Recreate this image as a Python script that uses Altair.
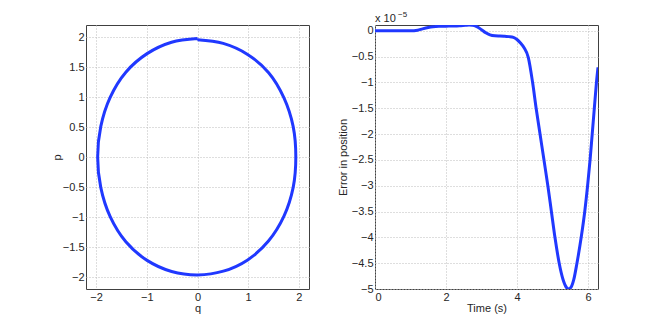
import altair as alt
import pandas as pd

# ---- Left panel: phase portrait (q, p) ----
q_vals = [0.0, 0.507, 0.988, 1.404, 1.706, 1.888, 1.94, 1.888, 1.706, 1.400, 0.99, 0.51,
          0.0, -0.511, -0.995, -1.414, -1.723, -1.908, -1.97, -1.908, -1.723, -1.414,
          -0.995, -0.512, 0.0]
p_vals = [1.955, 1.893, 1.710, 1.404, 0.985, 0.506, 0.0, -0.506, -0.985, -1.400, -1.715,
          -1.903, -1.965, -1.908, -1.723, -1.414, -0.995, -0.511, 0.0, 0.511, 0.995, 1.414,
          1.723, 1.913, 1.975]

# ---- Right panel: error in position (units of 1e-5) ----
t_vals = [0, 0.5, 1.0, 1.2, 1.34, 1.5, 1.63, 1.8, 2.0, 2.2, 2.38, 2.55, 2.65, 2.75, 2.85, 3.0,
          3.12, 3.24, 3.38, 3.52, 3.66, 3.78, 3.9, 4.0, 4.1, 4.2, 4.32, 4.44, 4.54, 4.65, 4.76,
          4.87, 4.97, 5.07, 5.19, 5.3, 5.4, 5.46, 5.52, 5.6, 5.69, 5.81, 5.91, 5.99, 6.06, 6.12,
          6.18, 6.24, 6.283]
err_vals = [0, 0, 0, 0.01, 0.035, 0.06, 0.075, 0.085, 0.088, 0.09, 0.095, 0.105, 0.11, 0.105,
            0.085, 0.02, -0.04, -0.08, -0.1, -0.105, -0.11, -0.115, -0.13, -0.17, -0.24, -0.33,
            -0.52, -1.0, -1.5, -2.0, -2.5, -3.0, -3.5, -4.0, -4.5, -4.82, -4.975, -5.0, -4.97,
            -4.82, -4.5, -4.0, -3.5, -3.0, -2.5, -2.0, -1.5, -1.0, -0.71]

q_ticks = [-2, -1, 0, 1, 2]
p_ticks = [-2, -1.5, -1, -0.5, 0, 0.5, 1, 1.5, 2]
t_ticks = [0, 2, 4, 6]
err_ticks = [0, -0.5, -1, -1.5, -2, -2.5, -3, -3.5, -4, -4.5, -5]
exp_base = ["x 10"]
exp_power = ["\u22125"]

BLUE = "#2038ff"
W, H = 223, 264

phase = pd.DataFrame({"q": q_vals, "p": p_vals, "i": list(range(len(q_vals)))})
err = pd.DataFrame({"t": t_vals, "e": err_vals})

left = alt.Chart(phase).mark_line(color=BLUE, strokeWidth=3, interpolate="catmull-rom").encode(
    x=alt.X("q:Q", title="q",
            scale=alt.Scale(domain=[-2.2, 2.2], nice=False, zero=False),
            axis=alt.Axis(values=q_ticks, format="~g")),
    y=alt.Y("p:Q", title="p",
            scale=alt.Scale(domain=[-2.2, 2.2], nice=False, zero=False),
            axis=alt.Axis(values=p_ticks, format="~g", titlePadding=0)),
    order="i:Q",
).properties(width=W, height=H)

line_r = alt.Chart(err).mark_line(color=BLUE, strokeWidth=3, interpolate="monotone", clip=True).encode(
    x=alt.X("t:Q", title="Time (s)",
            scale=alt.Scale(domain=[0, 6.2832], nice=False, zero=False),
            axis=alt.Axis(values=t_ticks, format="~g")),
    y=alt.Y("e:Q", title="Error in position",
            scale=alt.Scale(domain=[-5, 0.11], nice=False, zero=False),
            axis=alt.Axis(values=err_ticks, format="~g")),
)

base_txt = alt.Chart(pd.DataFrame({"s": exp_base})).mark_text(
    align="left", baseline="middle", fontSize=11, font="Liberation Sans", color="#262626"
).encode(x=alt.value(0), y=alt.value(-6), text="s:N")

pow_txt = alt.Chart(pd.DataFrame({"s": exp_power})).mark_text(
    align="left", baseline="middle", fontSize=8, font="Liberation Sans", color="#262626"
).encode(x=alt.value(23), y=alt.value(-10), text="s:N")

right = alt.layer(line_r, base_txt, pow_txt).properties(width=W, height=H)

chart = alt.hconcat(left, right, spacing=66, bounds="flush").properties(
    padding={"left": 42, "top": 2, "right": 0, "bottom": 0}
).configure_view(
    stroke="#404040", strokeWidth=1
).configure_axis(
    labelFont="Liberation Sans", titleFont="Liberation Sans",
    labelFontSize=11, titleFontSize=11, titleFontWeight="normal",
    labelColor="#262626", titleColor="#262626",
    domain=False, ticks=False, labelPadding=2, titlePadding=3,
    gridDash=[1, 2], gridColor="#bdbdbd", gridWidth=1,
).configure_axisX(titlePadding=0)

chart.save("out.html", embed_options={"renderer": "svg", "actions": False})
